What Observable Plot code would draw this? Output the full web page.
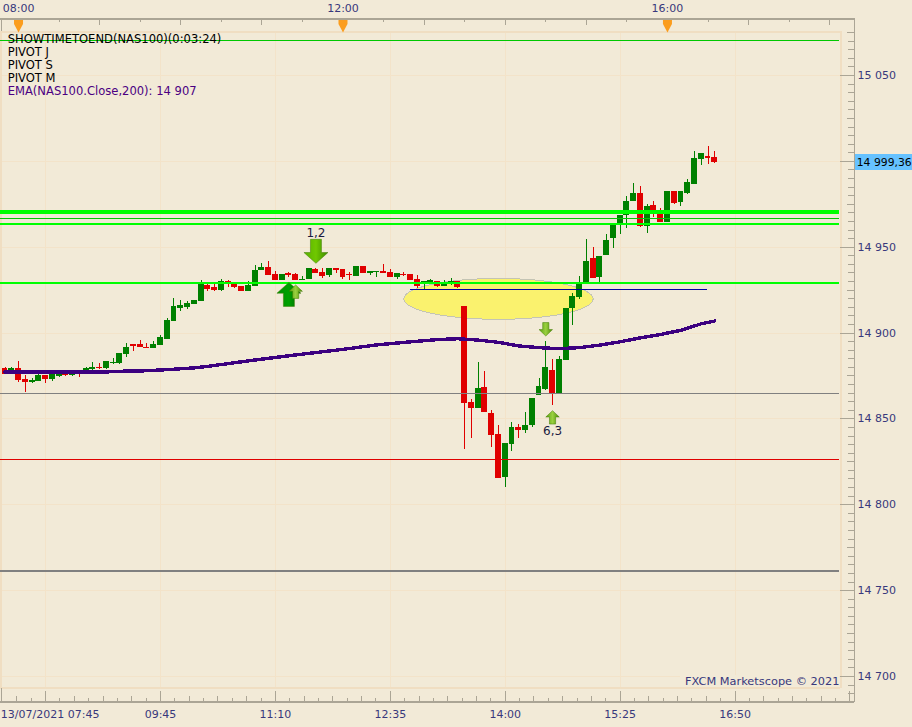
<!DOCTYPE html>
<html>
<head>
<meta charset="utf-8">
<script src="https://cdn.jsdelivr.net/npm/d3@7"></script>
<script src="https://cdn.jsdelivr.net/npm/@observablehq/plot@0.6"></script>
<style>
html,body{margin:0;padding:0;background:#f2ead7;overflow:hidden}
svg{display:block}
</style>
</head>
<body>
<div id="chart"></div>
<script>
// --- OHLC, one entry per 5-minute slot (NAS100, 13/07/2021) ---
const open = [14879.2,14875.9,14879.2,14872.7,14871.2,14871.8,14875.1,14872.9,14874.7,14876,14875.3,14877,14877.2,14878.8,14879.7,14879.4,14882.3,14882.3,14887.5,14893.3,14893.3,14891.6,14891,14892.7,14896.2,14906.7,14914.3,14914.9,14916.6,14918.4,14927.7,14926.5,14924.8,14930,14928.9,14927.3,14924.2,14927.1,14936.4,14938.2,14934.1,14930.6,14934.7,14934.1,14930.8,14931.2,14937,14935.3,14933.5,14937.6,14937,14934.1,14932.9,14938.8,14934.7,14935.3,14935.9,14935.3,14932.3,14934.3,14934.1,14931.2,14928.9,14929.4,14930,14927.1,14929.4,14930,14915.5,14859.6,14856.1,14868.3,14853.2,14840.9,14815.9,14835.1,14845,14843.3,14846.2,14863.6,14867.1,14878.2,14864.8,14884,14914.3,14920.7,14928.2,14943.4,14932.3,14945.1,14955,14963.2,14968.4,14976.6,14981.2,14962,14974.2,14971.3,14964.3,14982.4,14976,14981.2,14986.5,15001,15002.8,15002.2];
const high = [14879.9,14879.9,14883.4,14875.3,14873.5,14876,14875.1,14877.2,14877.2,14877.2,14878.2,14877,14879.9,14882.9,14882.3,14883.4,14885.2,14888.1,14893.9,14893.3,14895.7,14893.9,14895.1,14898.6,14908.5,14920.1,14919,14918.4,14919,14930.6,14928.3,14928.9,14931.2,14930.6,14928.9,14927.3,14930,14939.3,14940.5,14941.7,14935.9,14934.1,14935.4,14934.7,14932.9,14937.6,14937.6,14937.6,14937.6,14937.6,14937,14935.3,14938.8,14938.8,14935.9,14935.9,14939.9,14937,14934.7,14935.3,14934.1,14933.5,14930,14931.2,14930,14930.6,14931.8,14930,14915.5,14861.3,14882.9,14877.6,14854.9,14846.2,14835.7,14847.9,14846.8,14853.7,14861.9,14873.5,14895.1,14884.6,14886.4,14914.3,14923.1,14932.9,14954.4,14949.8,14944.5,14957.4,14963.2,14968.4,14979.5,14987.1,14985.3,14974.8,14976.6,14972.5,14982.4,14982.4,14982.4,14989.4,15005.7,15004.5,15008.6,15005.7];
const low = [14875.9,14875.9,14871.2,14865.4,14870.6,14871.8,14870.6,14871.8,14874.1,14874.7,14874.7,14874.1,14877,14878.2,14878.8,14878.8,14881.7,14881.7,14885.8,14889.2,14891.6,14891.2,14891,14892.7,14896.2,14906.7,14912.5,14913.7,14916.6,14918.4,14924.2,14924.2,14924.2,14926.5,14926,14924.2,14924.2,14927.1,14936.4,14933.5,14930.6,14930.6,14932.3,14930.6,14930.6,14931.2,14934.7,14931.8,14932.5,14934.7,14931.2,14930.6,14932.9,14934.7,14933.5,14932.3,14934.7,14932.3,14931.2,14932.9,14930.6,14925.9,14925.4,14928.9,14926.5,14927.1,14927.7,14925.9,14832.2,14838.6,14856.1,14853.7,14833.4,14815.3,14810.1,14831,14838.6,14841.5,14845,14863.6,14866.6,14857.8,14864.8,14884,14904.4,14919.5,14928.2,14931.7,14929.4,14945.1,14949.2,14957.4,14960.8,14976.6,14961.4,14957.9,14967.3,14964.3,14964.3,14974.8,14973.7,14980.6,14986.5,14997.5,14998.1,14998.7];
const close = [14875.9,14879.2,14872.4,14871.2,14872.2,14875.3,14872.9,14876.2,14876.2,14875.3,14876.2,14876,14879.4,14879.9,14879.2,14883.4,14882.9,14888.1,14891.6,14892.2,14891.6,14891.2,14893.3,14897.4,14907.3,14915.5,14916,14917.2,14919,14928.3,14925.4,14924.8,14930,14928.3,14926.5,14924.2,14927.7,14936.4,14938.2,14933.5,14930.6,14934.1,14933.5,14930.6,14931.2,14937.6,14934.7,14932.9,14937.6,14936.4,14932.3,14933.5,14938.8,14934.7,14935.9,14935.9,14934.7,14932.3,14934.7,14933.5,14930.6,14927.1,14930,14930.6,14927.1,14929.4,14930,14926.5,14859,14856.1,14867.7,14853.7,14840.3,14815.3,14835.7,14845,14843.3,14846.2,14861.9,14868.9,14880,14864.8,14884.6,14914.3,14921.3,14928.2,14941.6,14931.7,14944.5,14953.9,14963.2,14968.4,14976.6,14981.2,14962,14973.7,14971.3,14964.3,14982.4,14975.4,14982.4,14987.6,15001.6,15004.5,15001.6,14999.36];

// --- EMA(NAS100.Close,200), read at selected slots ---
const emaSlots = [0,15,16,20,24,28,30,33,36,40,45,50,55,60,64,67,70,73,76,79,82,85,88,91,94,97,100,103,105];
const emaValues = [14877.3,14877.3,14877.7,14877.9,14878.7,14879.7,14880.6,14882.2,14883.8,14885.8,14888.2,14890.5,14893.1,14894.9,14896.2,14896.7,14895.9,14894.6,14892.5,14891.5,14890.9,14891.5,14893,14894.9,14897.2,14899.2,14901.6,14905.4,14907];

// --- horizontal levels ---
const levelPrices  = [15070.1,14970.3,14966.9,14963.8,14929.2,14864.7,14826.2,14761.5];
const levelColors  = ["#00c800","#00ff00","#00c800","#00ff00","#00ff00","#808080","#e00000","#808080"];
const levelWidths  = [1,4,1,2,2,1,1,2.5];
const shortLevelPrice = 14925.4, shortLevelFrom = 60, shortLevelTo = 103.9;

// --- axes ---
const priceLabels = [15050,15000,14950,14900,14850,14800,14750,14700];
const priceTexts = ["15 050","","14 950","14 900","14 850","14 800","14 750","14 700"];
const bottomSlots = [6,23,40,57,74,91,108];
const bottomTexts = ["13/07/2021 07:45","09:45","11:10","12:35","14:00","15:25","16:50"];
const topSlots = [2,50,98];
const topTexts = ["08:00","12:00","16:00"];
const legendLines = ["SHOWTIMETOEND(NAS100)(0:03:24)","PIVOT J","PIVOT S","PIVOT M","EMA(NAS100.Close,200): 14 907"];
const legendColors = ["#000","#000","#000","#000","#4b0082"];
const lastPrice = 14999.36;

// --- signal arrows and annotations ---
const arrowSlots  = [42,43,46,80,81];
const arrowPrices = [14922.5,14924.1,14947.6,14902.2,14850.9];
const arrowDirs   = [1,1,-1,-1,1];
const arrowSizes  = [1,0.56,1,0.56,0.56];
const arrowFills  = ["url(#gDark)","url(#gLight)","url(#gMid)","url(#gLight)","url(#gLight)"];
const arrowNotes  = [{s:46,p:14958,t:"1,2"},{s:81,p:14843,t:"6,3"}];
const ellipseSlot = 73, ellipsePrice = 14919.9, ellipseRx = 14, ellipseRy = 11.9;

// frame, in data units
const xMin=-0.666, xMax=134.25, yTop=15093.68, yBot=14670.27;
const frameRight=123.6, axisRight=125.7, frameTop=15075.6, axisTop=15083, frameBottom=14693, axisBottom=14685;

const bg="#f2ead7", grid="#f3e3c9", band="#f0dec2", axisCol="#aba595", labelCol="#38387c";
const FONT="'DejaVu Sans'";

const candles = open.map((o,i)=>({i,o,h:high[i],l:low[i],c:close[i],col:close[i]>=o?"#008000":"#e00000"}));
const bodyHalf=0.44;
const ema = emaSlots.map((s,i)=>({s,v:emaValues[i]}));
const levels = levelPrices.map((p,i)=>({p,col:levelColors[i],w:levelWidths[i]}));
const arrows = arrowSlots.map((s,i)=>({s,p:arrowPrices[i],dir:arrowDirs[i],k:arrowSizes[i],fill:arrowFills[i]}));
const ellipsePts = d3.range(0,361,4).map(a=>({
  x:ellipseSlot+ellipseRx*Math.cos(a*Math.PI/180),
  y:ellipsePrice+ellipseRy*Math.sin(a*Math.PI/180)}));

// minor ticks
const priceMinor = d3.range(14690,15080,5).filter(p=>p%50!==0);
const botMinor = d3.range(0,136,2.125).map(v=>v+6-2.125*2).filter(v=>v>-0.5&&v<=125.6);
const topMinor = d3.range(-4,126,6).filter(v=>v>-0.5);

function arrowSymbol(dir,k){
  return {draw(ctx,size){
    const w=12*k, hh=12*k, sw=5.5*k, ht=hh*0.1*(k<1?0.5:1); // half width, half height, shaft half width
    const tip=-dir*hh, base=dir*hh, neck=-dir*ht;
    ctx.moveTo(0,tip); ctx.lineTo(w,neck); ctx.lineTo(sw,neck); ctx.lineTo(sw,base);
    ctx.lineTo(-sw,base); ctx.lineTo(-sw,neck); ctx.lineTo(-w,neck); ctx.closePath();
  }};
}
const triangleDown={draw(ctx){ctx.moveTo(-4.5,-6);ctx.lineTo(4.5,-6);ctx.lineTo(4.5,-2);ctx.lineTo(0,6.5);ctx.lineTo(-4.5,-2);ctx.closePath();}};

function defs(){
  const s=d3.create("svg:defs");
  const add=(id,a,b,c)=>{
    const g=s.append("linearGradient").attr("id",id).attr("x1",0).attr("x2",1).attr("y1",0).attr("y2",0);
    g.append("stop").attr("offset","0").attr("stop-color",a);
    g.append("stop").attr("offset","0.5").attr("stop-color",b);
    g.append("stop").attr("offset","1").attr("stop-color",c);
  };
  add("gDark","#009000","#00a000","#005f00");
  add("gMid","#58b000","#70c800","#3c8a00");
  add("gLight","#5aa010","#9ad040","#4a8a00");
  return s.node();
}

const crisp={shapeRendering:"crispEdges"};

const chart=Plot.plot({
  width:912,height:727,margin:0,
  style:{background:bg,fontFamily:FONT,fontSize:"11px",overflow:"hidden"},
  x:{type:"linear",domain:[xMin,xMax],range:[0,912],axis:null},
  y:{type:"linear",domain:[yBot,yTop],range:[727,0],axis:null},
  marks:[
    defs,
    // grid
    Plot.ruleX(bottomSlots.filter(s=>s<=frameRight),{x:d=>d,y1:frameBottom,y2:frameTop,stroke:grid,strokeWidth:1,...crisp}),
    Plot.ruleY(priceLabels,{y:d=>d,x1:xMin,x2:frameRight,stroke:grid,strokeWidth:1,...crisp}),
    // frame band
    Plot.ruleX([frameRight],{x:d=>d,y1:frameBottom,y2:frameTop,stroke:band,strokeWidth:2,...crisp}),
    Plot.ruleX([xMin+0.1],{x:d=>d,y1:frameBottom,y2:frameTop,stroke:band,strokeWidth:2,...crisp}),
    Plot.ruleY([frameTop,frameBottom],{y:d=>d,x1:xMin,x2:frameRight,stroke:band,strokeWidth:2,...crisp}),
    // ellipse annotation
    Plot.line(ellipsePts,{x:"x",y:"y",fill:"#faf26e",stroke:"#c4c4b4",strokeWidth:1,...crisp}),
    // candles
    Plot.ruleX(candles,{x:"i",y1:"l",y2:"h",stroke:"col",strokeWidth:1,...crisp}),
    Plot.rect(candles,{x1:d=>d.i-bodyHalf,x2:d=>d.i+bodyHalf,y1:"o",y2:d=>Math.abs(d.c-d.o)<0.6?d.o+0.6*Math.sign(d.c-d.o||1):d.c,fill:"col",...crisp}),
    // levels
    Plot.ruleY(levels,{y:"p",x1:xMin,x2:frameRight-0.1,stroke:"col",strokeWidth:"w",...crisp}),
    Plot.ruleY([shortLevelPrice],{y:d=>d,x1:shortLevelFrom,x2:shortLevelTo,stroke:"#0000a0",strokeWidth:1,...crisp}),
    // EMA
    Plot.line(ema,{x:"s",y:"v",stroke:"#3c0080",strokeWidth:3.4,curve:"linear",...crisp}),
    // arrows
    ...arrows.map(a=>Plot.dot([a],{x:"s",y:"p",r:1,symbol:arrowSymbol(a.dir,a.k),fill:a.fill,stroke:"#3f7a00",strokeWidth:0.5})),
    Plot.text(arrowNotes,{x:"s",y:"p",text:"t",fill:"#1a1a40",fontSize:12,fontFamily:FONT}),
    // axes frame
    Plot.ruleX([axisRight],{x:d=>d,y1:axisBottom,y2:axisTop,stroke:axisCol,strokeWidth:1.5,...crisp}),
    Plot.ruleY([axisTop,axisBottom],{y:d=>d,x1:xMin,x2:axisRight,stroke:axisCol,strokeWidth:1.5,...crisp}),
    Plot.ruleX([xMin+0.1],{x:d=>d,y1:axisTop,y2:frameTop,stroke:axisCol,...crisp}),
    Plot.ruleX([xMin+0.1],{x:d=>d,y1:axisBottom,y2:frameBottom,stroke:axisCol,...crisp}),
    // right ticks
    Plot.ruleY(priceMinor,{y:d=>d,x1:d=>axisRight-(d%25===0?1.1:0.85),x2:axisRight,stroke:axisCol,...crisp}),
    Plot.ruleY(priceLabels,{y:d=>d,x1:frameRight,x2:axisRight,stroke:axisCol,...crisp}),
    // bottom ticks
    Plot.ruleX(botMinor,{x:d=>d,y1:axisBottom,y2:(d,i)=>{const k=Math.round((d-6)/2.125);return k%8===0?14691.5:k%2===0?14688.5:14687;},stroke:axisCol,...crisp}),
    // top ticks
    Plot.ruleX(topMinor,{x:d=>d,y1:axisTop,y2:d=>{const k=Math.round((d-2)/6);return k%8===0?axisTop-7:k%2===0?axisTop-3.6:axisTop-2.4;},stroke:axisCol,...crisp}),
    Plot.dot(topSlots,{x:d=>d,y:15078.8,r:1,symbol:triangleDown,fill:"#fb9d1e"}),
    // labels
    Plot.text(topSlots,{x:d=>d,y:15089,text:(d,i)=>topTexts[i],fill:labelCol,fontSize:11,fontFamily:FONT}),
    Plot.text(bottomSlots.slice(1),{x:d=>d,y:14677.7,text:(d,i)=>bottomTexts[i+1],fill:labelCol,fontSize:11,fontFamily:FONT}),
    Plot.text([bottomTexts[0]],{x:-0.62,y:14677.7,text:d=>d,textAnchor:"start",fill:labelCol,fontSize:11,fontFamily:FONT}),
    Plot.text(priceLabels.filter(p=>p!==15000),{x:axisRight+0.4,y:d=>d,text:d=>priceTexts[priceLabels.indexOf(d)],textAnchor:"start",fill:labelCol,fontSize:11,fontFamily:FONT}),
    // last price flag
    Plot.rect([lastPrice],{x1:axisRight+0.06,x2:xMax+1,y1:d=>d-4.6,y2:d=>d+4.6,fill:"#66c2ff",...crisp}),
    Plot.text([lastPrice],{x:axisRight+0.3,y:d=>d,text:()=>"14 999,36",textAnchor:"start",fill:"#000",fontSize:10.8,fontFamily:FONT}),
    // legend
    Plot.text(legendLines,{x:0.4,y:(d,i)=>15070.9-i*7.57,text:d=>d,fill:(d,i)=>legendColors[i],textAnchor:"start",fontSize:11.55,fontFamily:FONT}),
    // watermark
    Plot.rect([0],{x1:100,x2:frameRight-0.2,y1:14693.6,y2:14700.8,fill:bg,...crisp}),
    Plot.text(["FXCM Marketscope © 2021"],{x:frameRight-0.15,y:14697.3,text:d=>d,textAnchor:"end",fill:labelCol,fontSize:11.35,fontFamily:FONT})
  ]
});
document.getElementById("chart").append(chart);
</script>
</body>
</html>
